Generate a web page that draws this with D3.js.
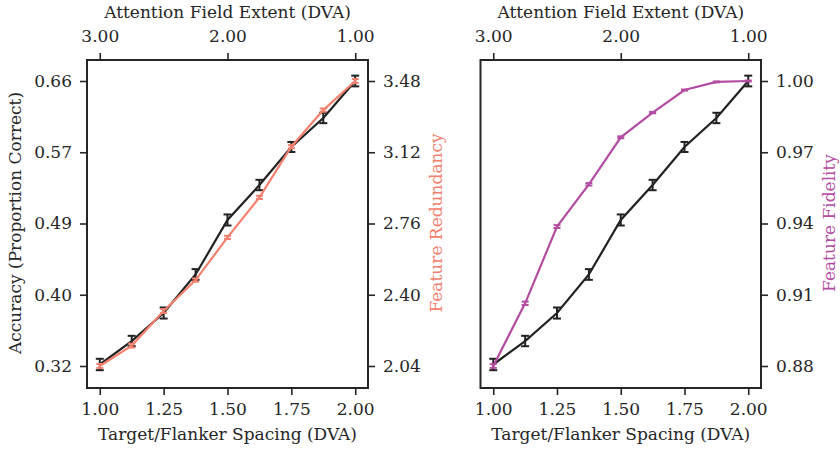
<!DOCTYPE html>
<html><head><meta charset="utf-8">
<script src="https://cdn.jsdelivr.net/npm/d3@7"></script>
<style>body{margin:0;background:#fff}svg{display:block}text{font-family:"DejaVu Serif",serif;fill:#262626}</style>
</head><body>
<svg id="c" width="840" height="450"></svg>
<script>
const spacing = [1.0, 1.125, 1.25, 1.375, 1.5, 1.625, 1.75, 1.875, 2.0];
const accuracy = [0.3218, 0.3498, 0.3832, 0.4292, 0.4942, 0.5359, 0.5813, 0.6159, 0.6600];
const accuracyErr = [0.0068, 0.0062, 0.0066, 0.0064, 0.0066, 0.0062, 0.0060, 0.0062, 0.0064];
const redundancy = [2.040, 2.143, 2.318, 2.474, 2.690, 2.892, 3.148, 3.333, 3.480];
const redundancyErr = [0.010, 0.010, 0.010, 0.008, 0.008, 0.008, 0.008, 0.008, 0.010];
const fidelity = [0.8800, 0.9064, 0.9387, 0.9565, 0.9763, 0.9867, 0.9962, 0.9996, 1.0000];
const fidelityErr = [0.0008, 0.0007, 0.0006, 0.0005, 0.0004, 0.0003, 0.0002, 0.0002, 0.0002];
const xTicks = [1.0, 1.25, 1.5, 1.75, 2.0];
const xTickLabels = ["1.00", "1.25", "1.50", "1.75", "2.00"];
const topTicks = [3.0, 2.0, 1.0];
const topTickLabels = ["3.00", "2.00", "1.00"];
const accTicks = [0.32, 0.405, 0.49, 0.575, 0.66];
const accTickLabels = ["0.32", "0.40", "0.49", "0.57", "0.66"];
const redTicks = [2.04, 2.40, 2.76, 3.12, 3.48];
const redTickLabels = ["2.04", "2.40", "2.76", "3.12", "3.48"];
const fidTicks = [0.88, 0.91, 0.94, 0.97, 1.00];
const fidTickLabels = ["0.88", "0.91", "0.94", "0.97", "1.00"];

const svg = d3.select("#c");
const TXT = "#262626", BLACK = "#222222", SALMON = "#f4806f", MAGENTA = "#b34da2";
const FS = 17;
const yTop = 60, yBot = 388;

function yScale(lo, hi) {
  const s = d3.scaleLinear().domain([lo, hi]).range([366, 81]);
  return d3.scaleLinear().domain([s.invert(yBot), s.invert(yTop)]).range([yBot, yTop]);
}

function panel(x0, x1, opts) {
  const g = svg.append("g");
  const x = d3.scaleLinear().domain([0.95, 2.05]).range([x0, x1]);
  const xt = d3.scaleLinear().domain([3.1, 0.9]).range([x0, x1]);
  const yA = yScale(0.32, 0.66);
  const yR = opts.rScale;

  const styleAxis = (sel) => {
    sel.select(".domain").remove();
    sel.selectAll(".tick line").attr("stroke", TXT).attr("stroke-width", 1.6);
    sel.selectAll(".tick text").style("font-size", FS + "px").style("font-family", "DejaVu Serif").attr("fill", TXT);
  };
  g.append("g").attr("transform", `translate(0,${yBot})`)
    .call(d3.axisBottom(x).tickValues(xTicks).tickFormat((d, i) => xTickLabels[i]).tickSize(7).tickPadding(8)).call(styleAxis);
  g.append("g").attr("transform", `translate(0,${yTop})`)
    .call(d3.axisTop(xt).tickValues(topTicks).tickFormat((d, i) => topTickLabels[i]).tickSize(7).tickPadding(11)).call(styleAxis);
  if (opts.leftTicks) {
    g.append("g").attr("transform", `translate(${x0},0)`)
      .call(d3.axisLeft(yA).tickValues(accTicks).tickFormat((d, i) => accTickLabels[i]).tickSize(7).tickPadding(8)).call(styleAxis);
  }
  g.append("g").attr("transform", `translate(${x1},0)`)
    .call(d3.axisRight(yR).tickValues(opts.rTicks).tickFormat((d, i) => opts.rLabels[i]).tickSize(7).tickPadding(8)).call(styleAxis);

  const series = (vals, errs, ys, color, w) => {
    const line = d3.line().x((d, i) => x(spacing[i])).y(d => ys(d));
    g.append("path").datum(vals).attr("d", line).attr("fill", "none").attr("stroke", color).attr("stroke-width", 2.2);
    const eb = g.append("g").attr("stroke", color).attr("stroke-width", 2);
    vals.forEach((v, i) => {
      const cx = x(spacing[i]), ya = ys(v - errs[i]), yb = ys(v + errs[i]);
      eb.append("line").attr("x1", cx).attr("x2", cx).attr("y1", ya).attr("y2", yb);
      eb.append("line").attr("x1", cx - w).attr("x2", cx + w).attr("y1", ya).attr("y2", ya);
      eb.append("line").attr("x1", cx - w).attr("x2", cx + w).attr("y1", yb).attr("y2", yb);
    });
  };
  series(accuracy, accuracyErr, yA, BLACK, 4);
  series(opts.rVals, opts.rErr, yR, opts.rColor, 3.5);

  g.append("rect").attr("x", x0).attr("y", yTop).attr("width", x1 - x0).attr("height", yBot - yTop)
    .attr("fill", "none").attr("stroke", TXT).attr("stroke-width", 2);

  const cx = (x(1) + x(2)) / 2;
  g.append("text").attr("x", cx).attr("y", 440).attr("text-anchor", "middle").style("font-size", FS + "px").text("Target/Flanker Spacing (DVA)");
  g.append("text").attr("x", cx).attr("y", 18).attr("text-anchor", "middle").style("font-size", FS + "px").text("Attention Field Extent (DVA)");
  g.append("text").attr("transform", `translate(${opts.rLabelX},223) rotate(-90)`).attr("text-anchor", "middle")
    .style("font-size", FS + "px").style("fill", opts.rColor).text(opts.rLabel);
}

panel(87, 368, {leftTicks: true, rScale: yScale(2.04, 3.48), rTicks: redTicks, rLabels: redTickLabels,
  rVals: redundancy, rErr: redundancyErr, rColor: SALMON, rLabel: "Feature Redundancy", rLabelX: 442});
panel(480.5, 761, {leftTicks: false, rScale: yScale(0.88, 1.00), rTicks: fidTicks, rLabels: fidTickLabels,
  rVals: fidelity, rErr: fidelityErr, rColor: MAGENTA, rLabel: "Feature Fidelity", rLabelX: 835});

svg.append("text").attr("transform", "translate(21,223) rotate(-90)").attr("text-anchor", "middle")
  .style("font-size", FS + "px").text("Accuracy (Proportion Correct)");
</script>
</body></html>
